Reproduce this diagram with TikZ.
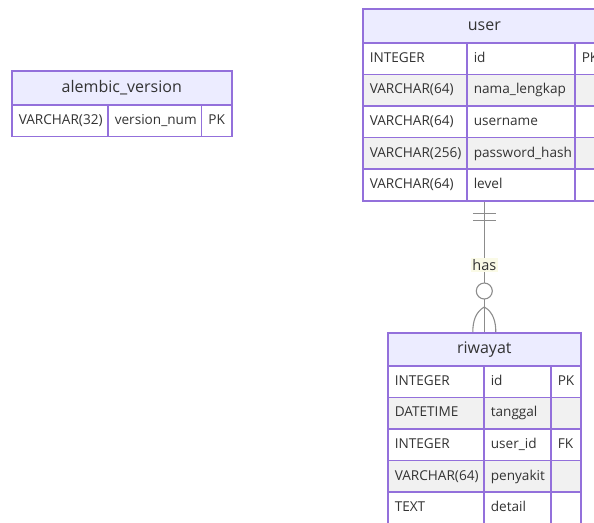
\documentclass[tikz,border=0pt]{standalone}
\usepackage{fontspec}
\setmainfont{Open Sans}
\usepackage{tikz}
\definecolor{erborder}{HTML}{9370DB}
\definecolor{erhead}{HTML}{ECECFF}
\definecolor{erodd}{HTML}{FFFFFF}
\definecolor{ereven}{HTML}{F1F1F1}
\definecolor{ertext}{HTML}{333333}
\definecolor{erline}{HTML}{8C8C8C}
\definecolor{erlabel}{HTML}{FAFAE6}
\tikzset{
  enthead/.style={draw=erborder, line width=1.6pt, fill=erhead, anchor=north west,
    inner sep=0pt, minimum height=#1, text=ertext,
    font=\fontsize{16}{18}\selectfont},
  cell/.style={draw=erborder, line width=1.6pt, anchor=north west, inner ysep=0pt,
    inner xsep=7pt, text width=#1-14pt, minimum height=31.6pt, text=ertext,
    text height=10.5pt, text depth=3pt,
    font=\fontsize{13.6}{16}\selectfont},
  rel/.style={draw=erline, line width=1.1pt},
}
\begin{document}
\begin{tikzpicture}[x=1pt, y=-1pt]
\useasboundingbox (0,0) rectangle (594,522);
\clip (0,0) rectangle (594,522);

% alembic_version
\node[enthead=34pt, minimum width=220pt] (alembic) at (11,70) {alembic\_version};
\node[cell=96pt, fill=erodd] (alembic-1-type) at (11,104) {VARCHAR(32)};
\node[cell=93.6pt, fill=erodd] (alembic-1-name) at (107,104) {version\_num};
\node[cell=30.4pt, fill=erodd] (alembic-1-key) at (200.6,104) {PK};

% user
\node[enthead=34pt, minimum width=243pt] (user) at (362,8) {user};
\foreach \t/\n/\k/\f [count=\i] in {INTEGER/id/PK/erodd, VARCHAR(64)/nama\_lengkap//ereven,
    VARCHAR(64)/username//erodd, VARCHAR(256)/password\_hash//ereven, VARCHAR(64)/level//erodd}
{
  \pgfmathsetmacro{\ry}{42+(\i-1)*31.6}
  \node[cell=104pt, fill=\f] (user-\i-type) at (362,\ry) {\t};
  \node[cell=108pt, fill=\f] (user-\i-name) at (466,\ry) {\n};
  \node[cell=31pt, fill=\f] (user-\i-key) at (574,\ry) {\k};
}

% riwayat
\node[enthead=33pt, minimum width=193pt] (riwayat) at (387,332) {riwayat};
\foreach \t/\n/\k/\f [count=\i] in {INTEGER/id/PK/erodd, DATETIME/tanggal//ereven,
    INTEGER/user\_id/FK/erodd, VARCHAR(64)/penyakit//ereven, TEXT/detail//erodd}
{
  \pgfmathsetmacro{\ry}{365+(\i-1)*31.6}
  \node[cell=96pt, fill=\f] (riwayat-\i-type) at (387,\ry) {\t};
  \node[cell=67pt, fill=\f] (riwayat-\i-name) at (483,\ry) {\n};
  \node[cell=30pt, fill=\f] (riwayat-\i-key) at (550,\ry) {\k};
}

% user ||--o{ riwayat
\coordinate (ubot) at (user-5-name.south -| riwayat.north);
\coordinate (rtop) at (riwayat.north);
\draw[rel] (ubot) -- (rtop)
  node[pos=0.485, fill=erlabel, inner sep=1.5pt, text=ertext,
       font=\fontsize{14.5}{16}\selectfont] (has) {has};
\draw[rel] ([shift={(-11.5,12)}]ubot) -- ++(23,0);
\draw[rel] ([shift={(-11.5,19)}]ubot) -- ++(23,0);
\draw[rel, fill=white] ([shift={(0,-41)}]rtop) circle (8);
\draw[rel] ([shift={(0,-25)}]rtop) .. controls +(-9,5) and +(0,-10) .. ([shift={(-11.5,0)}]rtop);
\draw[rel] ([shift={(0,-25)}]rtop) .. controls +(9,5) and +(0,-10) .. ([shift={(11.5,0)}]rtop);
\end{tikzpicture}
\end{document}
